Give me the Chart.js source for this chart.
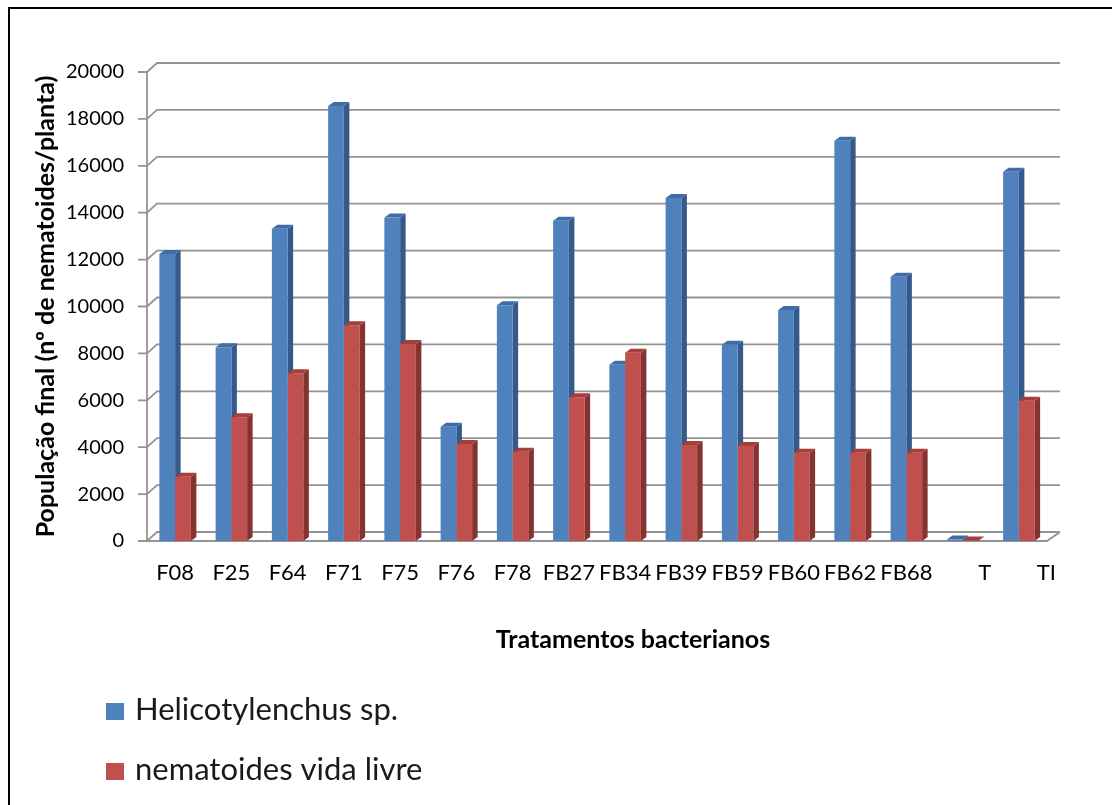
<!DOCTYPE html>
<html>
<head>
<meta charset="utf-8">
<script src="https://cdn.jsdelivr.net/npm/chart.js@4"></script>
<style>
  html, body { margin: 0; padding: 0; background: #fff; }
  canvas { display: block; }
</style>
</head>
<body>
<canvas id="c" width="1112" height="805"></canvas>
<script>
// Final nematode population per plant for each bacterial treatment
const categories = ['F08', 'F25', 'F64', 'F71', 'F75', 'F76', 'F78', 'FB27', 'FB34', 'FB39', 'FB59', 'FB60', 'FB62', 'FB68', 'T', 'TI'];
const helicotylenchus = [12240, 8260, 13320, 18550, 13800, 4870, 10050, 13660, 7520, 14630, 8370, 9850, 17070, 11270, 60, 15750];
const vidaLivre = [2740, 5275, 7150, 9200, 8400, 4135, 3810, 6130, 8030, 4095, 4050, 3765, 3765, 3765, 20, 5980];
const yTicks = [0, 2000, 4000, 6000, 8000, 10000, 12000, 14000, 16000, 18000, 20000];
const seriesNames = ['Helicotylenchus sp.', 'nematoides vida livre'];
const yTitle = 'População final (nº de nematoides/planta)';
const xTitle = 'Tratamentos bacterianos';

// colours: front face, side face, top face
const palette = [
  { front: '#4F81BD', side: '#35598A', top: '#406DA6' },
  { front: '#C0504D', side: '#853331', top: '#A43F3C' }
];

const FONT = 'Lato';
const GRID = '#939393';
const BAR_DX = 5.5, BAR_DY = -4;      // bar depth
const WALL_DY = -9;                   // back wall offset

// small horizontal nudges (in en spaces) for the last two category labels
const labelNudge = { 14: 4, 15: 5 };

function drawDepth(chart, dsIndex) {
  const meta = chart.getDatasetMeta(dsIndex);
  const ctx = chart.ctx;
  const col = palette[dsIndex];
  ctx.save();
  meta.data.forEach(bar => {
    const { x, y, base, width } = bar.getProps(['x', 'y', 'base', 'width'], true);
    const l = x - width / 2, r = x + width / 2;
    // side face
    ctx.fillStyle = col.side;
    ctx.beginPath();
    ctx.moveTo(r, y);
    ctx.lineTo(r + BAR_DX, y + BAR_DY);
    ctx.lineTo(r + BAR_DX, base + BAR_DY);
    ctx.lineTo(r, base);
    ctx.closePath();
    ctx.fill();
    // top face
    ctx.fillStyle = col.top;
    ctx.beginPath();
    ctx.moveTo(l, y);
    ctx.lineTo(l + BAR_DX, y + BAR_DY);
    ctx.lineTo(r + BAR_DX, y + BAR_DY);
    ctx.lineTo(r, y);
    ctx.closePath();
    ctx.fill();
  });
  ctx.restore();
}

const box3d = {
  id: 'box3d',
  beforeDraw(chart) {
    const ctx = chart.ctx;
    ctx.save();
    ctx.fillStyle = '#fff';
    ctx.fillRect(0, 0, chart.width, chart.height);
    ctx.restore();
  },
  beforeDatasetsDraw(chart) {
    const { ctx, chartArea: a, scales: { y } } = chart;
    const bl = a.left + 10, br = a.right + 13;
    ctx.save();
    ctx.strokeStyle = GRID;
    ctx.lineWidth = 1.8;
    yTicks.forEach(v => {
      const py = y.getPixelForValue(v);
      ctx.beginPath();
      ctx.moveTo(a.left - 9, py);
      ctx.lineTo(a.left, py);
      ctx.lineTo(bl, py + WALL_DY);
      ctx.lineTo(br, py + WALL_DY);
      ctx.stroke();
    });
    // vertical axis line
    ctx.beginPath();
    ctx.moveTo(a.left, y.getPixelForValue(yTicks[yTicks.length - 1]));
    ctx.lineTo(a.left, a.bottom);
    ctx.stroke();
    // floor front edge
    ctx.beginPath();
    ctx.moveTo(a.left, a.bottom);
    ctx.lineTo(a.right, a.bottom);
    ctx.lineTo(br, a.bottom + WALL_DY);
    ctx.stroke();
    ctx.restore();
    drawDepth(chart, 0);
  },
  afterDatasetsDraw(chart) {
    drawDepth(chart, 1);
  },
  afterDraw(chart) {
    const ctx = chart.ctx;
    ctx.save();
    // outer frame
    ctx.strokeStyle = '#000';
    ctx.lineWidth = 2;
    ctx.beginPath();
    ctx.moveTo(9, chart.height);
    ctx.lineTo(9, 8);
    ctx.lineTo(chart.width, 8);
    ctx.stroke();
    // category axis title
    ctx.fillStyle = '#000';
    ctx.font = 'bold 25px ' + FONT;
    ctx.textAlign = 'center';
    ctx.textBaseline = 'middle';
    ctx.fillText(xTitle, 633, 640);
    // legend
    ctx.textAlign = 'left';
    ctx.textBaseline = 'alphabetic';
    ctx.font = '31px ' + FONT;
    const rows = [720, 780];
    seriesNames.forEach((name, i) => {
      ctx.fillStyle = palette[i].front;
      ctx.fillRect(106, rows[i] - 17, 18, 17);
      ctx.fillStyle = '#1a1a1a';
      ctx.fillText(name, 135, rows[i]);
    });
    ctx.restore();
  }
};

new Chart(document.getElementById('c'), {
  type: 'bar',
  data: {
    labels: categories,
    datasets: [
      { label: seriesNames[0], data: helicotylenchus, backgroundColor: palette[0].front, borderWidth: 0 },
      { label: seriesNames[1], data: vidaLivre, backgroundColor: palette[1].front, borderWidth: 0 }
    ]
  },
  options: {
    responsive: false,
    animation: false,
    devicePixelRatio: 1,
    layout: { padding: { left: 0, top: 72, right: 65, bottom: 0 } },
    datasets: { bar: { categoryPercentage: 0.56, barPercentage: 1 } },
    plugins: { legend: { display: false }, tooltip: { enabled: false } },
    scales: {
      x: {
        grid: { display: false, drawTicks: false },
        border: { display: false },
        ticks: {
          color: '#000',
          font: { family: FONT, size: 22 },
          padding: 19,
          maxRotation: 0,
          autoSkip: false,
          callback: (v, i) => '\u2002'.repeat(labelNudge[i] || 0) + categories[i]
        },
        afterFit(s) { s.height = 264; }
      },
      y: {
        min: 0,
        max: 20000,
        grid: { display: false, drawTicks: false },
        border: { display: false },
        ticks: {
          stepSize: 2000,
          color: '#000',
          font: { family: FONT, size: 20 },
          padding: 23,
          callback: v => String(v)
        },
        title: {
          display: true,
          text: yTitle,
          color: '#000',
          font: { family: FONT, size: 25, weight: 'bold' },
          padding: { top: 31, bottom: 0 }
        },
        afterFit(s) { s.width = 147; }
      }
    }
  },
  plugins: [box3d]
});
</script>
</body>
</html>
